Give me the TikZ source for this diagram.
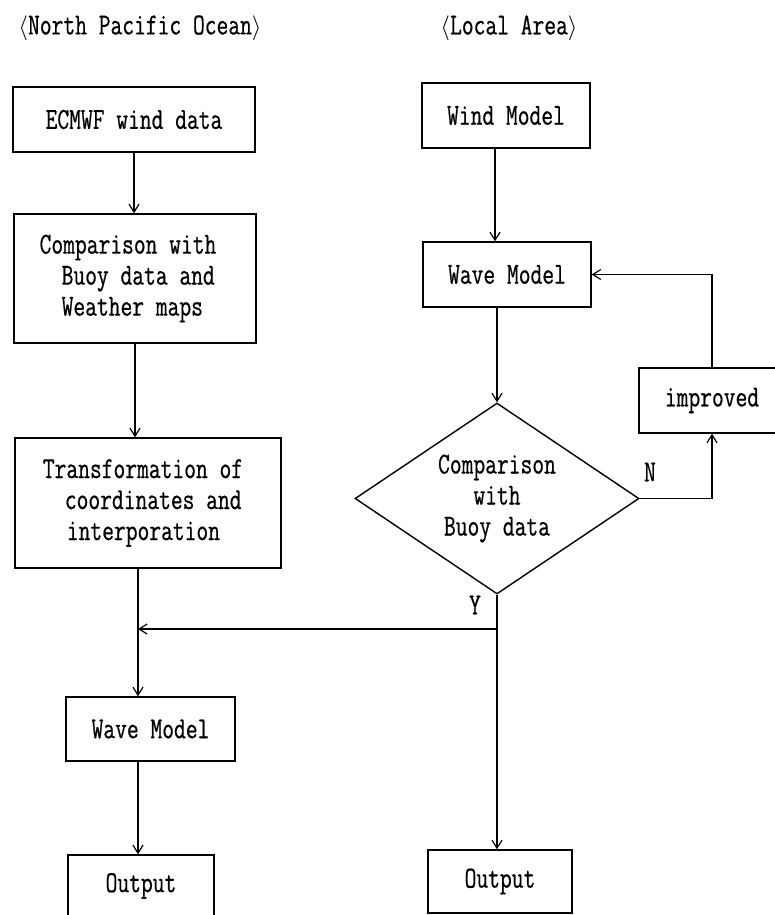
\documentclass[tikz,border=0pt]{standalone}
\usepackage{fontspec}
\usetikzlibrary{arrows.meta,shapes.geometric}
\newfontfamily\cf[FakeStretch=0.75,FakeBold=0.6]{Latin Modern Mono}
\tikzset{
  txt/.style={font=\cf\fontsize{30.5}{31}\selectfont, inner sep=0pt},
  box/.style={txt, draw, line width=1.4pt, align=center},
  lbox/.style={txt, draw, line width=1.4pt, align=left},
  dec/.style={txt, draw, line width=1.4pt, shape=diamond, aspect=1.49, align=center},
  arr/.style={line width=1.4pt, -{Straight Barb[length=8pt,width=10pt,line width=1.2pt]}},
  ln/.style={line width=1.4pt}
}
\begin{document}
\begin{tikzpicture}[x=1pt,y=-1pt]
\useasboundingbox (0,0) rectangle (774,915);
% titles
\node[txt] (t1) at (140,28) {$\big\langle$North Pacific Ocean$\big\rangle$};
\node[txt] (t2) at (509,28) {$\big\langle$Local Area$\big\rangle$};
% left column
\node[box, minimum width=242pt, minimum height=65pt] (ecmwf) at (134,119.5) {ECMWF wind data};
\node[lbox, minimum width=242pt, minimum height=129pt] (comp) at (135,278.5)
  {Comparison with\hspace*{14pt}\\\hspace*{22pt}Buoy data and\\\hspace*{22pt}Weather maps};
\node[lbox, minimum width=266pt, minimum height=130pt] (trans) at (148,503)
  {Transformation of\hspace*{10pt}\\\hspace*{22pt}coordinates and\\\hspace*{24pt}interporation};
\node[box, minimum width=169pt, minimum height=64pt] (waveL) at (150.5,729) {Wave Model};
\node[box, minimum width=146pt, minimum height=62pt] (outL) at (141,886) {Output};
% right column
\node[box, minimum width=168pt, minimum height=65pt] (wind) at (506,115.5) {Wind Model};
\node[box, minimum width=168pt, minimum height=65pt] (waveR) at (507,274.5) {Wave Model};
\node[dec, minimum width=284pt, minimum height=191pt] (dia) at (497,498.5)
  {Comparison\\with\\Buoy data};
\node[box, minimum width=146pt, minimum height=65pt] (impr) at (712,400.5) {improved};
\node[box, minimum width=144pt, minimum height=63pt] (outR) at (500,881.5) {Output};
% labels
\node[txt] (lN) at (650,472) {N};
\node[txt] (lY) at (475,605) {Y};
% trunks
\coordinate (trunk) at (138,0);
\coordinate (rtrunk) at (495,0);
\coordinate (ybr) at (497,629);
\coordinate (join) at (138,629);
% connectors
\draw[arr] (ecmwf.south) -- (ecmwf.south |- comp.north);
\draw[arr] (comp.south) -- (comp.south |- trans.north);
\draw[arr] (trans.south -| trunk) -- (waveL.north -| trunk);
\draw[arr] (waveL.south -| trunk) -- (outL.north -| trunk);
\draw[arr] (wind.south -| rtrunk) -- (waveR.north -| rtrunk);
\draw[arr] (waveR.south -| dia.north) -- (dia.north);
\draw[arr] (dia.east) -| (impr.south);
\draw[arr] (impr.north) |- (waveR.east);
\draw[arr] (dia.south) -- (dia.south |- outR.north);
\draw[arr] (ybr) -- (join);
\end{tikzpicture}
\end{document}
